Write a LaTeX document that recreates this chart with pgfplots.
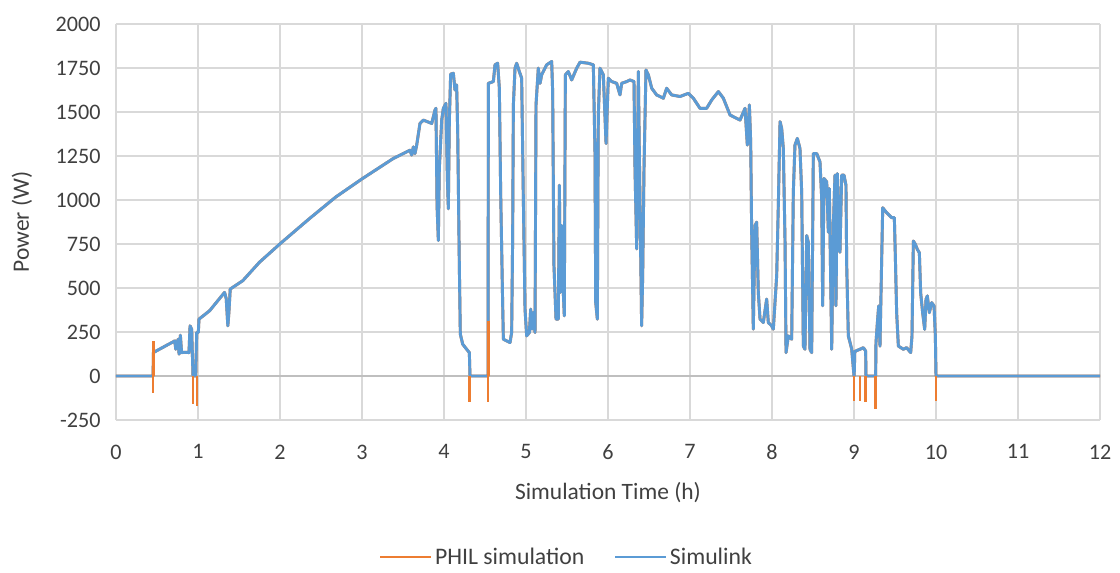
\documentclass[border=0pt]{standalone}
\usepackage{pgfplots}
\pgfplotsset{compat=1.18}
\usepackage{pgfplotstable}
\usepackage{fontspec}
\setmainfont{Carlito}
\definecolor{xlorange}{HTML}{ED7D31}
\definecolor{xlblue}{HTML}{5B9BD5}
\definecolor{gridgray}{HTML}{D9D9D9}
\definecolor{zerogray}{HTML}{BFBFBF}
\definecolor{txt}{HTML}{404040}
\pgfplotstableread{
x y
0 0
0.453 0
0.455 133
0.60 170
0.70 195
0.717 200
0.729 152
0.757 209
0.769 124
0.785 232
0.800 133
0.838 135
0.890 133
0.903 285
0.923 266
0.939 0
0.972 0
0.984 247
1.004 247
1.012 323
1.142 371
1.324 475
1.344 440
1.364 285
1.377 361
1.393 494
1.547 542
1.749 646
2.000 751
2.356 893
2.680 1017
3.000 1120
3.382 1236
3.585 1283
3.606 1255
3.626 1302
3.646 1264
3.667 1312
3.707 1435
3.748 1454
3.850 1435
3.890 1511
3.902 1521
3.915 970
3.931 770
3.943 1179
3.972 1454
3.992 1521
4.024 1549
4.041 1122
4.053 950
4.065 1445
4.081 1715
4.114 1720
4.134 1625
4.154 1654
4.167 1388
4.187 627
4.199 238
4.228 181
4.276 152
4.309 133
4.317 0
4.537 0
4.541 1663
4.602 1673
4.622 1768
4.654 1777
4.675 1635
4.691 1045
4.715 418
4.724 209
4.805 190
4.825 247
4.837 780
4.846 1540
4.866 1749
4.886 1777
4.919 1730
4.947 1692
4.967 1026
4.988 380
5.008 228
5.041 247
5.057 380
5.073 266
5.089 361
5.110 247
5.122 1540
5.150 1749
5.171 1663
5.191 1711
5.252 1768
5.313 1787
5.325 1616
5.341 627
5.366 323
5.394 323
5.407 1084
5.419 475
5.435 855
5.455 475
5.467 342
5.480 1711
5.516 1730
5.557 1682
5.618 1749
5.659 1783
5.760 1777
5.821 1768
5.841 1274
5.850 418
5.870 323
5.882 1483
5.902 1749
5.943 1711
5.976 1321
6.004 1692
6.045 1673
6.106 1663
6.146 1597
6.167 1663
6.228 1673
6.268 1682
6.317 1673
6.329 1179
6.350 722
6.370 1730
6.390 988
6.410 285
6.423 570
6.439 1179
6.463 1739
6.492 1711
6.533 1635
6.593 1597
6.675 1578
6.715 1635
6.776 1597
6.878 1588
6.980 1606
7.041 1578
7.122 1521
7.203 1521
7.264 1568
7.346 1616
7.407 1578
7.488 1483
7.610 1454
7.671 1521
7.699 1312
7.724 1540
7.740 1331
7.752 817
7.772 266
7.793 855
7.813 874
7.833 475
7.854 323
7.894 304
7.935 437
7.955 304
7.996 285
8.016 266
8.057 570
8.077 970
8.098 1445
8.118 1407
8.138 1293
8.159 760
8.171 133
8.199 228
8.240 209
8.260 1045
8.280 1312
8.309 1350
8.341 1293
8.362 1045
8.382 171
8.402 152
8.423 798
8.443 760
8.463 152
8.484 133
8.504 1264
8.545 1264
8.585 1217
8.606 1008
8.618 399
8.634 1122
8.667 1103
8.687 817
8.699 1065
8.728 152
8.748 855
8.768 1141
8.780 399
8.797 1150
8.813 912
8.829 703
8.850 1141
8.878 1141
8.902 1084
8.911 627
8.931 228
8.972 152
9.000 0
9.002 0
9.010 140
9.073 152
9.114 161
9.142 142
9.146 0
9.264 0
9.268 189
9.285 303
9.301 398
9.317 170
9.333 559
9.350 956
9.398 928
9.459 900
9.492 900
9.504 682
9.520 360
9.541 170
9.602 152
9.642 161
9.691 133
9.707 227
9.724 767
9.748 748
9.772 720
9.797 700
9.813 473
9.837 360
9.862 265
9.878 436
9.894 455
9.919 360
9.947 417
9.976 398
9.992 227
10.000 0
12.000 0
}\simdata
\pgfplotstableread{
x y
0.453 -95
0.455 200
0.939 -160
0.985 -170
4.312 -150
4.537 -150
4.541 314
9.000 -140
9.073 -140
9.142 -145
9.264 -185
10.000 -140
}\philspikes
\begin{document}
\begin{tikzpicture}
\useasboundingbox (-87pt,-114pt) rectangle (753pt,315pt);
\begin{axis}[
  scale only axis, width=738pt, height=297pt,
  at={(0,0)}, anchor=south west,
  xmin=0, xmax=12, ymin=-250, ymax=2000,
  xtick={0,1,...,12}, ytick={-250,0,...,2000},
  axis line style={draw=none},
  tick style={draw=none},
  major tick length=0pt,
  grid=major,
  grid style={gridgray, line width=1pt},
  extra y ticks={0},
  extra y tick labels={},
  extra y tick style={grid style={zerogray, line width=1.3pt}},
  /pgf/number format/assume math mode=true,
  /pgf/number format/1000 sep={},
  ticklabel style={font=\fontsize{16.6}{19}\selectfont, text=txt},
  xticklabel style={yshift=-15pt},
  yticklabel style={xshift=-8pt},
  xlabel={Simulation Time (h)},
  ylabel={Power (W)},
  label style={font=\fontsize{17.6}{20}\selectfont, text=txt},
  xlabel style={at={(axis description cs:0.5,-0.184)}, anchor=center},
  ylabel style={at={(axis description cs:-0.0955,0.5)}, anchor=center, rotate=0},
  legend style={at={(axis description cs:0.458,-0.346)}, anchor=center,
    draw=none, fill=none, font=\fontsize{17.8}{20}\selectfont, text=txt,
    /tikz/every even column/.append style={column sep=20pt}},
  legend columns=2,
  legend image code/.code={\draw[#1] (0pt,0pt) -- (38pt,0pt);},
  clip=false,
]
\addplot[xlorange, line width=2.2pt, line join=round] table[x=x,y=y]{\simdata};
\addlegendentry{PHIL simulation}
\addplot[xlblue, line width=2.2pt, line join=round] table[x=x,y=y]{\simdata};
\addlegendentry{Simulink}
\addplot[xlorange, line width=1.8pt, ycomb, forget plot] table[x=x,y=y]{\philspikes};
\end{axis}
\end{tikzpicture}
\end{document}
